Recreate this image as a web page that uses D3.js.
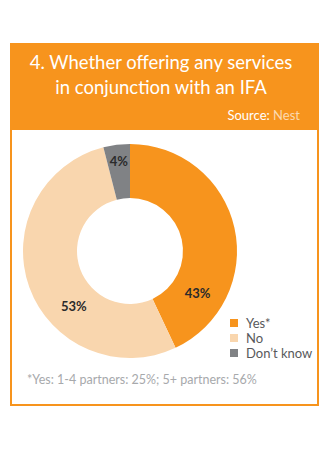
<!DOCTYPE html>
<html>
<head>
<meta charset="utf-8">
<script src="https://cdn.jsdelivr.net/npm/d3@7"></script>
<style>
  body { margin:0; background:#fff; }
  svg { display:block; font-family:Lato, "Open Sans", sans-serif; }
</style>
</head>
<body>
<svg id="chart" width="325" height="450"></svg>
<script>
// data
const categories = ["Yes*", "No", "Don\u2019t know"];
const values = [43, 53, 4];
const colors = ["#f7941d", "#f9d6ae", "#808285"];
const titleLines = ["4. Whether offering any services", "in conjunction with an IFA"];
const footnote = "*Yes: 1-4 partners: 25%; 5+ partners: 56%";

const svg = d3.select('#chart');

// frame
svg.append('rect')
  .attr('x', 11).attr('y', 44).attr('width', 307).attr('height', 361)
  .attr('fill', '#fff').attr('stroke', '#f7941d').attr('stroke-width', 2);
svg.append('rect')             // header band
  .attr('x', 10).attr('y', 43).attr('width', 309).attr('height', 87)
  .attr('fill', '#f7941d');

svg.selectAll('text.title').data(titleLines).enter().append('text')
  .attr('class', 'title')
  .attr('x', 161).attr('y', (d, i) => 69 + i * 25)
  .attr('text-anchor', 'middle')
  .attr('fill', '#fff')
  .style('font-size', '18.5px')
  .style('font-weight', 400)
  .text(d => d);

const src = svg.append('text')
  .attr('x', 300).attr('y', 120)
  .attr('text-anchor', 'end')
  .style('font-size', '13px')
  .style('font-weight', 400);
src.append('tspan').attr('fill', '#fff').text('Source: ');
src.append('tspan').attr('fill', '#fbd9b0').text('Nest');

// donut
const cx = 130, cy = 251, rOut = 107, rIn = 53;
const color = d3.scaleOrdinal().domain(categories).range(colors);
const pieData = categories.map((c, i) => ({label: c, value: values[i]}));
const pie = d3.pie().value(d => d.value).sort(null);
const arc = d3.arc().innerRadius(rIn).outerRadius(rOut);

const gPie = svg.append('g').attr('transform', `translate(${cx},${cy})`);
const arcs = pie(pieData);
gPie.selectAll('path').data(arcs).enter().append('path')
  .attr('d', arc)
  .attr('fill', d => color(d.data.label));

// labels sit toward the lower part of the big slices, like the original
const labelPos = [0.79, 0.37, 0.5];   // fraction along each slice's angle
const labelR = [80, 79, 90];
gPie.selectAll('text.pct').data(arcs).enter().append('text')
  .attr('class', 'pct')
  .attr('transform', (d, i) => {
    const a = d.startAngle + (d.endAngle - d.startAngle) * labelPos[i];
    return `translate(${Math.sin(a) * labelR[i]},${-Math.cos(a) * labelR[i]})`;
  })
  .attr('dy', '0.35em')
  .attr('text-anchor', 'middle')
  .attr('fill', '#2b2b2b')
  .style('font-size', '13px')
  .style('font-weight', 700)
  .text(d => d.data.value + '%');

// legend
const legend = svg.append('g').attr('transform', 'translate(230,319)');
const rows = legend.selectAll('g').data(categories).enter().append('g')
  .attr('transform', (d, i) => `translate(0,${i * 15})`);
rows.append('rect')
  .attr('width', 8).attr('height', 8)
  .attr('fill', d => color(d));
rows.append('text')
  .attr('x', 16).attr('y', 9)
  .attr('fill', '#58595b')
  .style('font-size', '13px')
  .text(d => d);

// footnote
svg.append('text')
  .attr('x', 27).attr('y', 384)
  .attr('fill', '#a7a9ac')
  .style('font-size', '12.5px')
  .text(footnote);
</script>
</body>
</html>
